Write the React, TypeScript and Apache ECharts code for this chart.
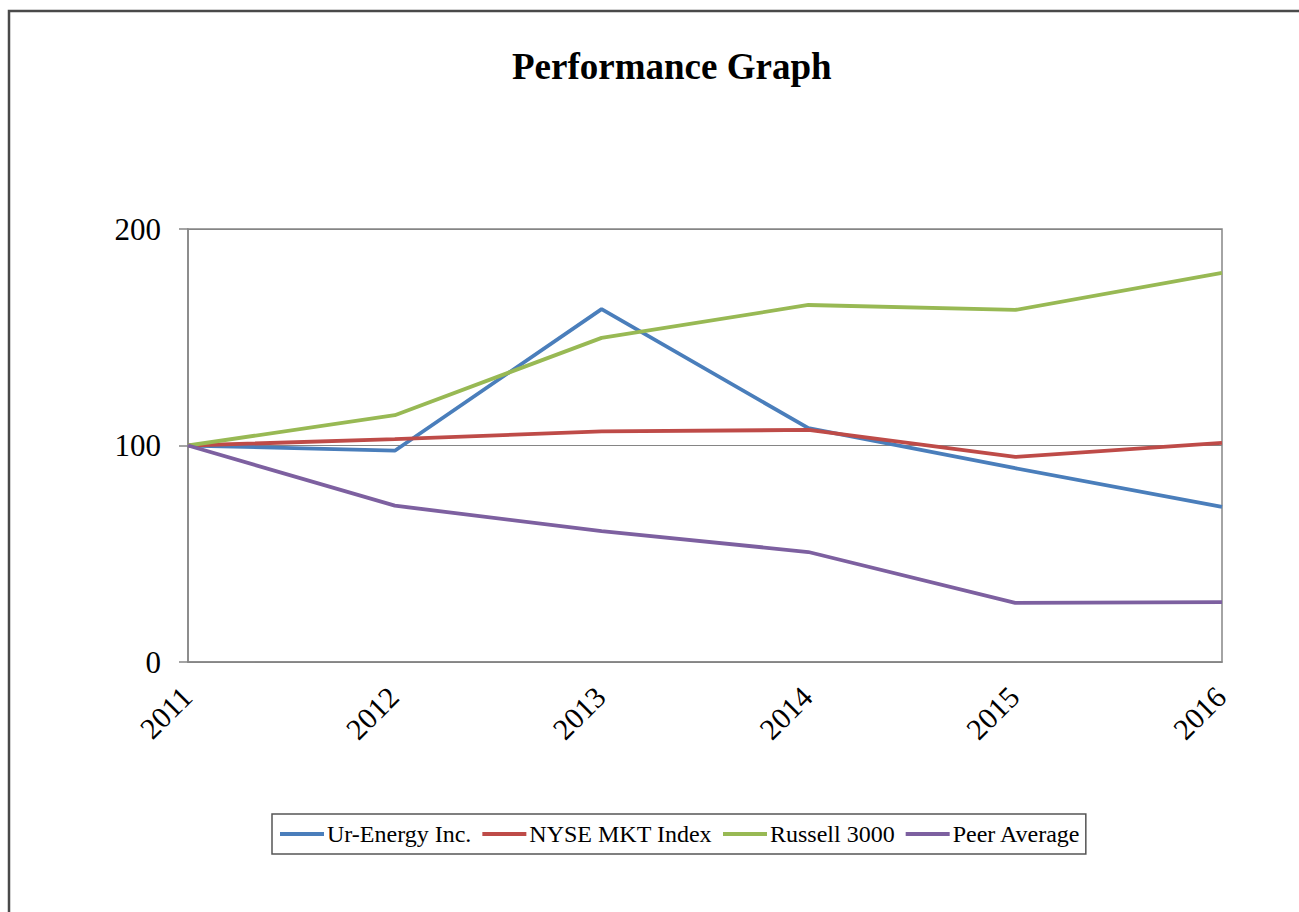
import React, { useEffect, useRef } from "react";
import * as echarts from "echarts";

const years = ["2011", "2012", "2013", "2014", "2015", "2016"];
const urEnergy = [100, 97.6, 163, 108, 89.5, 71.6];
const nyseMkt = [100, 102.9, 106.5, 107.2, 94.7, 101.2];
const russell3000 = [100, 114, 149.7, 164.9, 162.6, 179.7];
const peerAverage = [100, 72.2, 60.5, 50.8, 27.3, 27.7];

const FONT = "'Liberation Serif', 'Times New Roman', serif";

export default function App() {
  const ref = useRef<HTMLDivElement>(null);
  useEffect(() => {
    if (!ref.current) return;
    const chart = echarts.init(ref.current, null, { renderer: "svg" });
    const mk = (name: string, data: number[], color: string) => ({
      name,
      type: "line",
      data,
      symbol: "none",
      color,
      lineStyle: { width: 3.8, color },
    });
    const border = {
      id: "outer",
      type: "rect",
      shape: { x: 9, y: 11, width: 1400, height: 1000 },
      style: { fill: "none", stroke: "#4a4a4a", lineWidth: 2.5 },
      silent: true,
    };
    chart.setOption({
      animation: false,
      backgroundColor: "#ffffff",
      title: {
        text: "Performance Graph",
        left: 507,
        top: 43,
        textStyle: { fontFamily: FONT, fontSize: 37, fontWeight: "bold", color: "#000" },
      },
      graphic: [border],
      legend: {
        left: 272,
        top: 814,
        padding: [8, 5, 8, 8],
        itemGap: 11,
        itemWidth: 44,
        itemHeight: 4,
        icon: "rect",
        borderColor: "#555",
        borderWidth: 1.5,
        textStyle: { fontFamily: FONT, fontSize: 24, color: "#000", padding: [0, 0, 0, -2] },
        data: ["Ur-Energy Inc.", "NYSE MKT Index", "Russell 3000", "Peer Average"],
      },
      grid: {
        left: 188,
        right: 77,
        top: 229,
        bottom: 250,
        show: true,
        borderColor: "#868686",
        borderWidth: 1.5,
      },
      xAxis: {
        type: "category",
        data: years,
        boundaryGap: false,
        axisLine: { lineStyle: { color: "#868686", width: 1.5 } },
        axisTick: { show: false },
        axisLabel: { show: false },
      },
      yAxis: {
        type: "value",
        min: 0,
        max: 200,
        interval: 100,
        axisLine: { show: true, lineStyle: { color: "#868686", width: 1.5 } },
        axisTick: { show: true, inside: false, length: 9, lineStyle: { color: "#868686", width: 1.5 } },
        splitLine: { show: true, lineStyle: { color: "#858585", width: 1.2 } },
        axisLabel: { margin: 27, fontFamily: FONT, fontSize: 31, color: "#000" },
      },
      series: [
        mk("Ur-Energy Inc.", urEnergy, "#4A7EBB"),
        mk("NYSE MKT Index", nyseMkt, "#BE4B48"),
        mk("Russell 3000", russell3000, "#98B954"),
        mk("Peer Average", peerAverage, "#7D60A0"),
      ],
    });
    const axisY = chart.convertToPixel({ yAxisIndex: 0 }, 0) as number;
    const labels = years.map((yr, i) => {
      const px = chart.convertToPixel({ xAxisIndex: 0 }, yr) as number;
      return {
        id: "xl" + i,
        type: "text",
        x: px - 12,
        y: axisY + 19,
        rotation: Math.PI / 4,
        silent: true,
        style: {
          text: yr,
          align: "right",
          verticalAlign: "top",
          fontFamily: FONT,
          fontSize: 30,
          fill: "#000",
        },
      };
    });
    chart.setOption({ graphic: [border, ...labels] });
    return () => chart.dispose();
  }, []);
  return (
    <div
      ref={ref}
      style={{ position: "absolute", left: 0, top: 0, width: 1299, height: 912 }}
    />
  );
}
